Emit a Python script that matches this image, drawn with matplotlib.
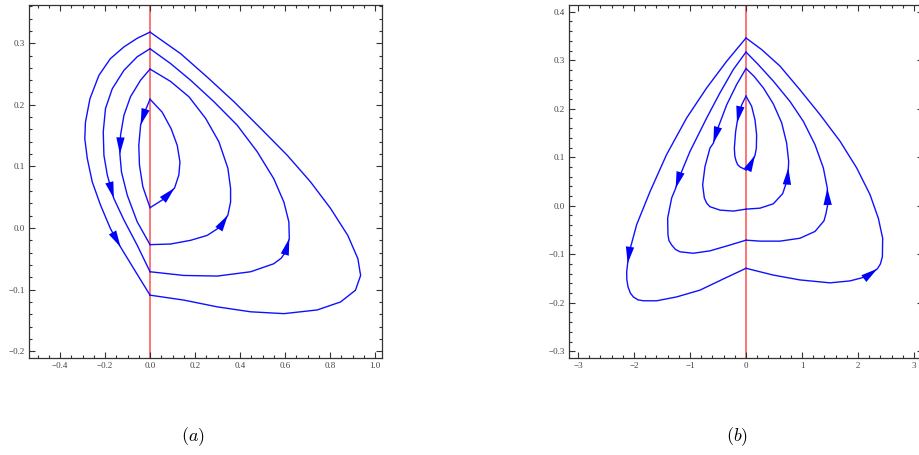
import numpy as np
import matplotlib
matplotlib.use("Agg")
from matplotlib import pyplot as plt
from matplotlib.ticker import MultipleLocator

plt.rcParams['mathtext.fontset'] = 'cm'

# ---- panel (a): each orbit = left part (top corner -> bottom corner), right part (bottom -> top)
a1_left_x = [0.0, -0.057, -0.116, -0.176, -0.227, -0.267, -0.287, -0.290, -0.279, -0.257, -0.220, -0.176, -0.131, -0.064, 0.0]
a1_left_y = [0.318, 0.308, 0.294, 0.275, 0.248, 0.210, 0.172, 0.145, 0.113, 0.075, 0.037, -0.001, -0.031, -0.071, -0.109]
a1_right_x = [0.0, 0.150, 0.299, 0.447, 0.595, 0.743, 0.847, 0.913, 0.936, 0.930, 0.924, 0.879, 0.802, 0.713, 0.610, 0.491, 0.373, 0.254, 0.136, 0.0]
a1_right_y = [-0.109, -0.117, -0.128, -0.136, -0.139, -0.133, -0.120, -0.101, -0.077, -0.064, -0.050, -0.012, 0.032, 0.075, 0.118, 0.162, 0.205, 0.245, 0.283, 0.318]

a2_left_x = [0.0, -0.057, -0.116, -0.168, -0.198, -0.208, -0.205, -0.190, -0.161, -0.116, -0.057, 0.0]
a2_left_y = [0.291, 0.278, 0.256, 0.226, 0.194, 0.156, 0.118, 0.086, 0.048, 0.013, -0.028, -0.071]
a2_right_x = [0.0, 0.150, 0.299, 0.447, 0.550, 0.583, 0.602, 0.619, 0.617, 0.595, 0.550, 0.476, 0.387, 0.284, 0.180, 0.091, 0.0]
a2_right_y = [-0.071, -0.077, -0.078, -0.071, -0.058, -0.049, -0.039, -0.017, 0.010, 0.042, 0.080, 0.124, 0.167, 0.205, 0.240, 0.267, 0.291]

a3_left_x = [0.0, -0.042, -0.087, -0.116, -0.131, -0.134, -0.127, -0.101, -0.057, 0.0]
a3_left_y = [0.258, 0.240, 0.213, 0.183, 0.151, 0.120, 0.091, 0.053, 0.010, -0.027]
a3_right_x = [0.0, 0.091, 0.180, 0.254, 0.313, 0.346, 0.358, 0.358, 0.346, 0.306, 0.247, 0.173, 0.091, 0.0]
a3_right_y = [-0.027, -0.026, -0.020, -0.012, 0.002, 0.021, 0.042, 0.064, 0.097, 0.140, 0.178, 0.213, 0.238, 0.258]

a4_left_x = [0.0, -0.024, -0.042, -0.050, -0.047, -0.032, 0.0]
a4_left_y = [0.209, 0.188, 0.167, 0.134, 0.102, 0.067, 0.033]
a4_right_x = [0.0, 0.061, 0.109, 0.128, 0.133, 0.121, 0.094, 0.054, 0.0]
a4_right_y = [0.033, 0.047, 0.065, 0.086, 0.107, 0.134, 0.161, 0.188, 0.209]

# ---- panel (b)
b1_left_x = [0.0, -0.345, -0.702, -1.060, -1.420, -1.714, -1.952, -2.083, -2.113, -2.130, -2.128, -2.107, -2.065, -2.012, -1.930, -1.833, -1.595, -1.238, -0.821, -0.405, 0.0]
b1_left_y = [0.346, 0.298, 0.243, 0.181, 0.105, 0.029, -0.039, -0.095, -0.119, -0.136, -0.152, -0.167, -0.180, -0.188, -0.194, -0.196, -0.196, -0.188, -0.174, -0.151, -0.129]
b1_right_x = [0.0, 0.488, 0.964, 1.500, 1.857, 2.155, 2.345, 2.400, 2.435, 2.440, 2.363, 2.214, 1.976, 1.679, 1.321, 0.964, 0.607, 0.280, 0.0]
b1_right_y = [-0.129, -0.143, -0.153, -0.159, -0.155, -0.146, -0.130, -0.120, -0.105, -0.067, -0.026, 0.023, 0.078, 0.133, 0.188, 0.239, 0.288, 0.322, 0.346]

b2_left_x = [0.0, -0.226, -0.464, -0.702, -1.000, -1.208, -1.256, -1.327, -1.399, -1.393, -1.375, -1.327, -1.260, -1.179, -0.940, -0.643, -0.286, 0.0]
b2_left_y = [0.317, 0.281, 0.233, 0.181, 0.112, 0.054, 0.036, 0.016, -0.026, -0.060, -0.072, -0.081, -0.090, -0.095, -0.098, -0.093, -0.081, -0.071]
b2_right_x = [0.0, 0.250, 0.607, 0.964, 1.232, 1.393, 1.430, 1.458, 1.452, 1.381, 1.232, 1.024, 0.786, 0.488, 0.220, 0.0]
b2_right_y = [-0.071, -0.073, -0.073, -0.067, -0.053, -0.031, -0.015, 0.002, 0.036, 0.078, 0.126, 0.174, 0.215, 0.257, 0.291, 0.317]

b3_left_x = [0.0, -0.167, -0.345, -0.512, -0.583, -0.643, -0.732, -0.774, -0.744, -0.700, -0.643, -0.464, -0.226, 0.0]
b3_left_y = [0.283, 0.250, 0.208, 0.157, 0.129, 0.119, 0.081, 0.043, 0.016, 0.005, -0.002, -0.009, -0.011, -0.007]
b3_right_x = [0.0, 0.250, 0.488, 0.655, 0.738, 0.756, 0.762, 0.726, 0.637, 0.488, 0.310, 0.143, 0.0]
b3_right_y = [-0.007, -0.005, 0.004, 0.025, 0.054, 0.078, 0.091, 0.129, 0.171, 0.210, 0.243, 0.267, 0.283]

b4_left_x = [0.0, -0.077, -0.137, -0.160, -0.185, -0.208, -0.200, -0.179, -0.150, -0.107, 0.0]
b4_left_y = [0.226, 0.208, 0.184, 0.171, 0.153, 0.119, 0.103, 0.093, 0.085, 0.080, 0.074]
b4_right_x = [0.0, 0.071, 0.161, 0.185, 0.190, 0.161, 0.101, 0.0]
b4_right_y = [0.074, 0.083, 0.104, 0.119, 0.146, 0.177, 0.205, 0.226]

# (x list, y list, indices of points where an arrow tip sits)
panel_a = [
    (a1_left_x, a1_left_y, [12]), (a1_right_x, a1_right_y, []),
    (a2_left_x, a2_left_y, [8]), (a2_right_x, a2_right_y, [7]),
    (a3_left_x, a3_left_y, [5]), (a3_right_x, a3_right_y, [5]),
    (a4_left_x, a4_left_y, [2]), (a4_right_x, a4_right_y, [2]),
]
panel_b = [
    (b1_left_x, b1_left_y, [8]), (b1_right_x, b1_right_y, [6]),
    (b2_left_x, b2_left_y, [6]), (b2_right_x, b2_right_y, [8]),
    (b3_left_x, b3_left_y, [4]), (b3_right_x, b3_right_y, [5]),
    (b4_left_x, b4_left_y, [3]), (b4_right_x, b4_right_y, [2]),
]

fig = plt.figure(figsize=(9.19, 4.55), dpi=100)
ax_a = fig.add_axes([29 / 919, 1 - 358 / 455, 353 / 919, 353 / 455])
ax_b = fig.add_axes([569 / 919, 1 - 358 / 455, 354 / 919, 353 / 455])


def draw(ax, curves, xlim, ylim, xmaj, xmin, ymaj, ymin):
    ax.axvline(0, color='#ff6a6a', lw=1.3, zorder=1)
    for xs, ys, arr in curves:
        ax.plot(xs, ys, color='#1010ff', lw=1.0, zorder=2, solid_joinstyle='round')
        for k in arr:
            ax.annotate('', xy=(xs[k], ys[k]), xytext=(xs[k - 1], ys[k - 1]),
                        arrowprops=dict(arrowstyle='-|>,head_length=0.8,head_width=0.2',
                                        color='#0000ff', lw=0.01, shrinkA=0, shrinkB=0,
                                        mutation_scale=15),
                        zorder=3)
    ax.set_xlim(*xlim)
    ax.set_ylim(*ylim)
    ax.xaxis.set_major_locator(MultipleLocator(xmaj))
    ax.xaxis.set_minor_locator(MultipleLocator(xmin))
    ax.yaxis.set_major_locator(MultipleLocator(ymaj))
    ax.yaxis.set_minor_locator(MultipleLocator(ymin))
    ax.tick_params(which='both', direction='in', top=True, right=True,
                   width=0.8, color='#333333', labelsize=6.5, labelcolor='#444444', pad=3)
    ax.tick_params(which='major', length=4.5)
    ax.tick_params(which='minor', length=2.5)
    for s in ax.spines.values():
        s.set_color('#333333')
        s.set_linewidth(0.9)


draw(ax_a, panel_a, (-0.538, 1.031), (-0.211, 0.362), 0.2, 0.05, 0.1, 0.02)
draw(ax_b, panel_b, (-3.16, 3.16), (-0.314, 0.414), 1, 0.2, 0.1, 0.02)

ax_a.xaxis.set_major_formatter(plt.FuncFormatter(lambda v, p: f'{v:.1f}'.replace('-', '\u2212')))
ax_a.yaxis.set_major_formatter(plt.FuncFormatter(lambda v, p: f'{v:.1f}'.replace('-', '\u2212')))
ax_b.xaxis.set_major_formatter(plt.FuncFormatter(lambda v, p: f'{v:.0f}'.replace('-', '\u2212')))
ax_b.yaxis.set_major_formatter(plt.FuncFormatter(lambda v, p: f'{v:.1f}'.replace('-', '\u2212')))
for ax in (ax_a, ax_b):
    for lab in ax.get_xticklabels() + ax.get_yticklabels():
        lab.set_family('Liberation Serif')

fig.text(193 / 919, 1 - 437 / 455, r'$(a)$', fontsize=13, ha='center', va='center')
fig.text(737 / 919, 1 - 437 / 455, r'$(b)$', fontsize=13, ha='center', va='center')

fig.savefig('out.png', dpi=100)
